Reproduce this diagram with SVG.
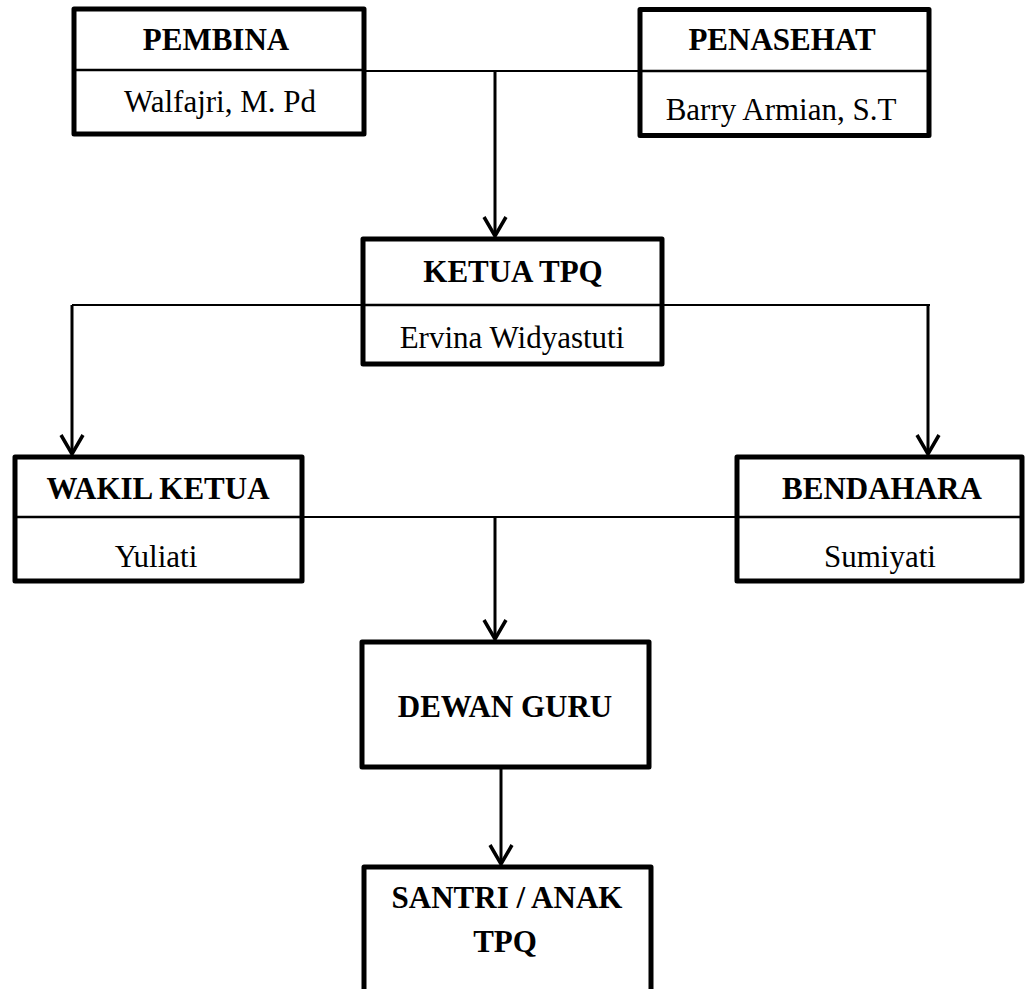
<svg xmlns="http://www.w3.org/2000/svg" width="1025" height="989" viewBox="0 0 1025 989">
<style>
.box{fill:#fff;stroke:#000;stroke-width:5;stroke-linejoin:round}
.div{stroke:#000;stroke-width:2.5;fill:none}
.h{stroke:#000;stroke-width:2;fill:none}
.v{stroke:#000;stroke-width:3;fill:none;marker-end:url(#chev)}
.t{font-family:"Liberation Serif","Times New Roman",serif;font-size:31px;font-weight:bold;text-anchor:middle;fill:#000}
.n{font-family:"Liberation Serif","Times New Roman",serif;font-size:31px;text-anchor:middle;fill:#000}
</style>
<defs>
<marker id="chev" markerUnits="userSpaceOnUse" viewBox="-22 -14 26 28" refX="0" refY="0" markerWidth="26" markerHeight="28" orient="auto" overflow="visible">
<path d="M-19,-11 L0,0 L-19,11" fill="none" stroke="#000" stroke-width="3.5" stroke-linejoin="miter"/>
</marker>
</defs>
<rect width="1025" height="989" fill="#fff"/>
<g id="connectors">
<line class="h" x1="364" y1="71" x2="640" y2="71"/>
<path class="v" d="M495,71 V236"/>
<line class="h" x1="72" y1="305" x2="930" y2="305"/>
<path class="v" d="M72,305 V454"/>
<path class="v" d="M928,305 V454"/>
<line class="h" x1="302" y1="517" x2="737" y2="517"/>
<path class="v" d="M495,517 V639"/>
<path class="v" d="M501,767 V864"/>
</g>
<g id="pembina">
<rect class="box" x="74" y="9" width="290" height="125"/>
<line class="div" x1="74" y1="70" x2="364" y2="70"/>
<text class="t" x="216" y="50">PEMBINA</text>
<text class="n" x="220" y="112">Walfajri, M. Pd</text>
</g>
<g id="penasehat">
<rect class="box" x="640" y="9.5" width="289" height="126"/>
<line class="div" x1="640" y1="71" x2="929" y2="71"/>
<text class="t" x="782" y="50">PENASEHAT</text>
<text class="n" x="781" y="120">Barry Armian, S.T</text>
</g>
<g id="ketua">
<rect class="box" x="363" y="239" width="299" height="125"/>
<line class="div" x1="363" y1="305" x2="662" y2="305"/>
<text class="t" x="513" y="282">KETUA TPQ</text>
<text class="n" x="512" y="348">Ervina Widyastuti</text>
</g>
<g id="wakil">
<rect class="box" x="15" y="457" width="287" height="124"/>
<line class="div" x1="15" y1="517" x2="302" y2="517"/>
<text class="t" x="158" y="499">WAKIL KETUA</text>
<text class="n" x="156" y="567">Yuliati</text>
</g>
<g id="bendahara">
<rect class="box" x="737" y="457" width="285" height="124"/>
<line class="div" x1="737" y1="517" x2="1022" y2="517"/>
<text class="t" x="882" y="499">BENDAHARA</text>
<text class="n" x="880" y="567">Sumiyati</text>
</g>
<g id="dewan">
<rect class="box" x="362" y="642" width="287" height="125"/>
<text class="t" x="505" y="717">DEWAN GURU</text>
</g>
<g id="santri">
<rect class="box" x="364" y="867" width="287" height="140"/>
<text class="t" x="507" y="908">SANTRI / ANAK</text>
<text class="t" x="505" y="952">TPQ</text>
</g>
</svg>
